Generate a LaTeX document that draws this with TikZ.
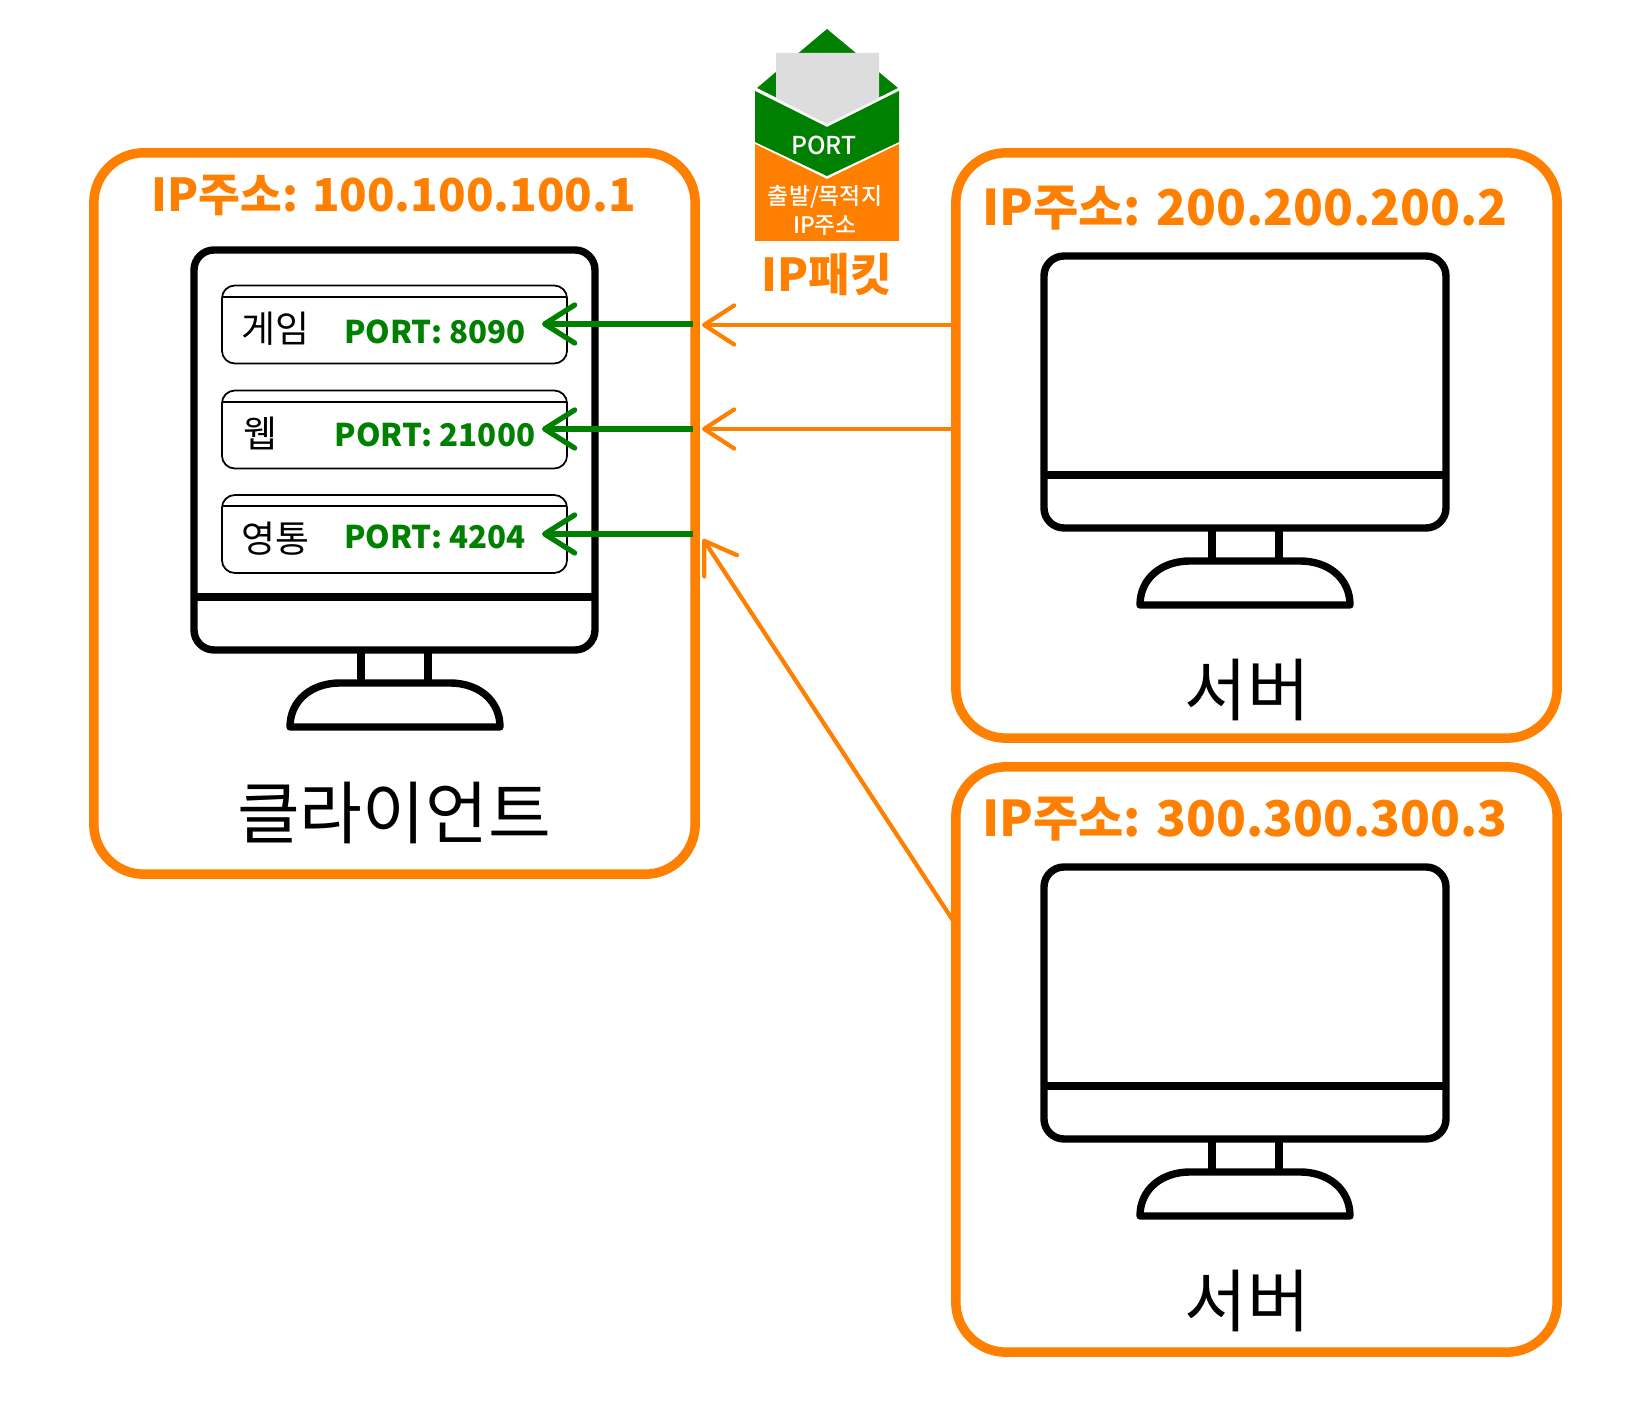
\documentclass[tikz,border=0pt]{standalone}
\usepackage{fontspec}
\setmainfont{Noto Sans CJK KR}
\newfontfamily\mediumfont{Noto Sans CJK KR Medium}
\usetikzlibrary{arrows.meta}
\definecolor{ipcolor}{RGB}{255,127,0}
\definecolor{portcolor}{RGB}{0,128,0}
\definecolor{papercolor}{RGB}{221,221,221}
\tikzset{
  ipbox/.style={draw=ipcolor, line width=2.7pt, rounded corners=0.5cm, minimum width=6.01cm},
  appbox/.style={draw=black, line width=0.5pt, rounded corners=0.13cm, minimum width=3.45cm, minimum height=0.78cm},
  monitor/.style={draw=black, line width=2.1pt, line join=round},
  iparrow/.style={draw=ipcolor, line width=1.2pt, -{Straight Barb[length=0.3cm, width=0.39cm, round]}},
  portarrow/.style={draw=portcolor, line width=1.5pt, shorten <=2pt, -{Straight Barb[length=0.3cm, width=0.38cm, round]}},
  iplabel/.style={text=ipcolor, font=\fontsize{14}{15}\selectfont\bfseries},
  portlabel/.style={text=portcolor, font=\fontsize{8.9}{11}\selectfont\bfseries},
  applabel/.style={font=\fontsize{10.5}{12}\selectfont},
  hostlabel/.style={font=\fontsize{19.4}{22}\selectfont},
  packetlabel/.style={text=white, font=\fontsize{6.5}{7}\selectfont\mediumfont},
}
\begin{document}
\begin{tikzpicture}[x=0.01cm, y=-0.01cm]
    \useasboundingbox (0,0) rectangle (1632,1416);
    % rahmen:
    \node[ipbox, minimum height=7.21cm] (client) at (394.5,513.5) {};
    \node[ipbox, minimum height=5.85cm] (server1) at (1256.5,445.5) {};
    \node[ipbox, minimum height=5.85cm] (server2) at (1256.5,1059.5) {};
    % rahmen text:
    \node[iplabel, font=\fontsize{12.9}{15}\selectfont\bfseries] (clientip) at (394,196) {IP주소: 100.100.100.1};
    \node[iplabel] (server1ip) at (1245,208) {IP주소: 200.200.200.2};
    \node[iplabel] (server2ip) at (1245,819) {IP주소: 300.300.300.3};
    \node[hostlabel] (clientname) at (394,813) {클라이언트};
    \node[hostlabel] (server1name) at (1247,690) {서버};
    \node[hostlabel] (server2name) at (1247,1301) {서버};
    % monitor client:
    \draw[monitor, rounded corners=0.2cm] (194,250) rectangle (595,650);
    \draw[monitor] (194,597) -- (595,597);
    \draw[monitor] (361,650) -- (361,683);
    \draw[monitor] (428,650) -- (428,683);
    \draw[monitor] (290,727) .. controls (290,700) and (312,683) .. (340,683) -- (450,683) .. controls (478,683) and (500,700) .. (500,727) -- cycle;
    % monitor server 1:
    \draw[monitor, rounded corners=0.2cm] (1044,256) rectangle (1446,528);
    \draw[monitor] (1044,475) -- (1446,475);
    \draw[monitor] (1212,528) -- (1212,561);
    \draw[monitor] (1279,528) -- (1279,561);
    \draw[monitor] (1140,605) .. controls (1140,578) and (1162,561) .. (1190,561) -- (1300,561) .. controls (1328,561) and (1350,578) .. (1350,605) -- cycle;
    % monitor server 2:
    \draw[monitor, rounded corners=0.2cm] (1044,867) rectangle (1446,1139);
    \draw[monitor] (1044,1086) -- (1446,1086);
    \draw[monitor] (1212,1139) -- (1212,1172);
    \draw[monitor] (1279,1139) -- (1279,1172);
    \draw[monitor] (1140,1216) .. controls (1140,1189) and (1162,1172) .. (1190,1172) -- (1300,1172) .. controls (1328,1172) and (1350,1189) .. (1350,1216) -- cycle;
    % apps:
    \node[appbox] (game) at (394.5,324.5) {};
    \node[appbox] (web) at (394.5,429.5) {};
    \node[appbox] (chat) at (394.5,534) {};
    \draw[line width=0.5pt] (222,297) -- (567,297); % erster Strich
    \draw[line width=0.5pt] (222,402) -- (567,402); % zweiter Strich
    \draw[line width=0.5pt] (222,506) -- (567,506); % dritter Strich
    \node[applabel] (gamename) at (275,329) {게임};
    \node[applabel] (webname) at (260,433) {웹};
    \node[applabel] (chatname) at (275,539) {영통};
    \node[portlabel] (gameport) at (435,332) {PORT: 8090};
    \node[portlabel] (webport) at (435,435) {PORT: 21000};
    \node[portlabel] (chatport) at (435,537) {PORT: 4204};
    % pfeile:
    \coordinate (gametip) at (542,324);
    \coordinate (webtip) at (542,429);
    \coordinate (chattip) at (542,534);
    \coordinate (iptip1) at (702,325);
    \coordinate (iptip2) at (702,429);
    \coordinate (iptip3) at (703,539);
    \coordinate (ipstart3) at (956,925);
    \draw[portarrow] (client.east |- gametip) -- (gametip);
    \draw[portarrow] (client.east |- webtip) -- (webtip);
    \draw[portarrow] (client.east |- chattip) -- (chattip);
    \draw[iparrow] (server1.west |- iptip1) -- (iptip1);
    \draw[iparrow] (server1.west |- iptip2) -- (iptip2);
    \draw[iparrow] (ipstart3) -- (iptip3);
    % paket:
    \fill[portcolor] (757,88) -- (827,29) -- (898,88) -- (827,123) -- cycle;
    \fill[papercolor] (776,53) -- (879,53) -- (879,98) -- (827,124) -- (776,98) -- cycle;
    \fill[portcolor] (755,91) -- (827,127) -- (899,91) -- (899,142) -- (827,176) -- (755,142) -- cycle;
    \fill[ipcolor] (755,144) -- (827,179) -- (899,144) -- (899,241) -- (755,241) -- cycle;
    \node[packetlabel, font=\fontsize{7}{8}\selectfont\mediumfont] (portname) at (824,145) {PORT};
    \node[packetlabel] (addrname) at (825,197) {출발/목적지};
    \node[packetlabel] (ipname) at (825,226) {IP주소};
    \node[iplabel, font=\fontsize{12.9}{14}\selectfont\bfseries] (packetname) at (827,275) {IP패킷};
\end{tikzpicture}
\end{document}
